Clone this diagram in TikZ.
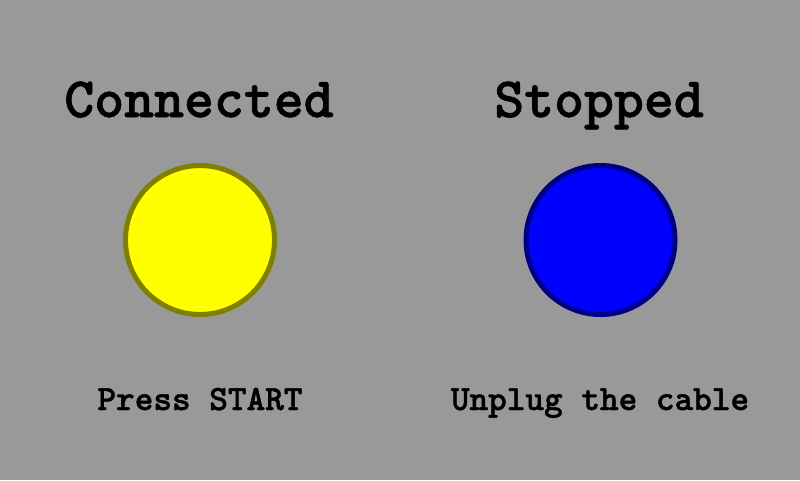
\documentclass[tikz,border=0pt]{standalone}
\usepackage{fontspec}
\newfontfamily\heavytt[Extension=.otf,FakeBold=1.2]{lmmonolt10-bold}
\definecolor{bggray}{RGB}{153,153,153}
\definecolor{lampyellow}{RGB}{255,255,0}
\definecolor{lampblue}{RGB}{0,0,255}
\definecolor{olivering}{RGB}{128,128,0}
\definecolor{navyring}{RGB}{0,0,135}
\begin{document}
\begin{tikzpicture}[x=1pt,y=-1pt,
  title/.style={anchor=base,inner sep=0pt,font=\heavytt\fontsize{57}{57}\selectfont},
  caption/.style={anchor=base,inner sep=0pt,font=\heavytt\fontsize{35.5}{35.5}\selectfont},
  lamp/.style={circle,minimum size=149pt,inner sep=0pt,line width=5pt}]
\useasboundingbox (0,0) rectangle (800,480);
\fill[bggray] (0,0) rectangle (800,480);
\node[title] (t1) at (199,117) {Connected};
\node[title] (t2) at (599,117) {Stopped};
\node[lamp,fill=lampyellow,draw=olivering] (l1) at (200,240) {};
\node[lamp,fill=lampblue,draw=navyring] (l2) at (600.5,240) {};
\node[caption] (c1) at (200,410) {Press START};
\node[caption] (c2) at (600,410) {Unplug the cable};
\end{tikzpicture}
\end{document}
